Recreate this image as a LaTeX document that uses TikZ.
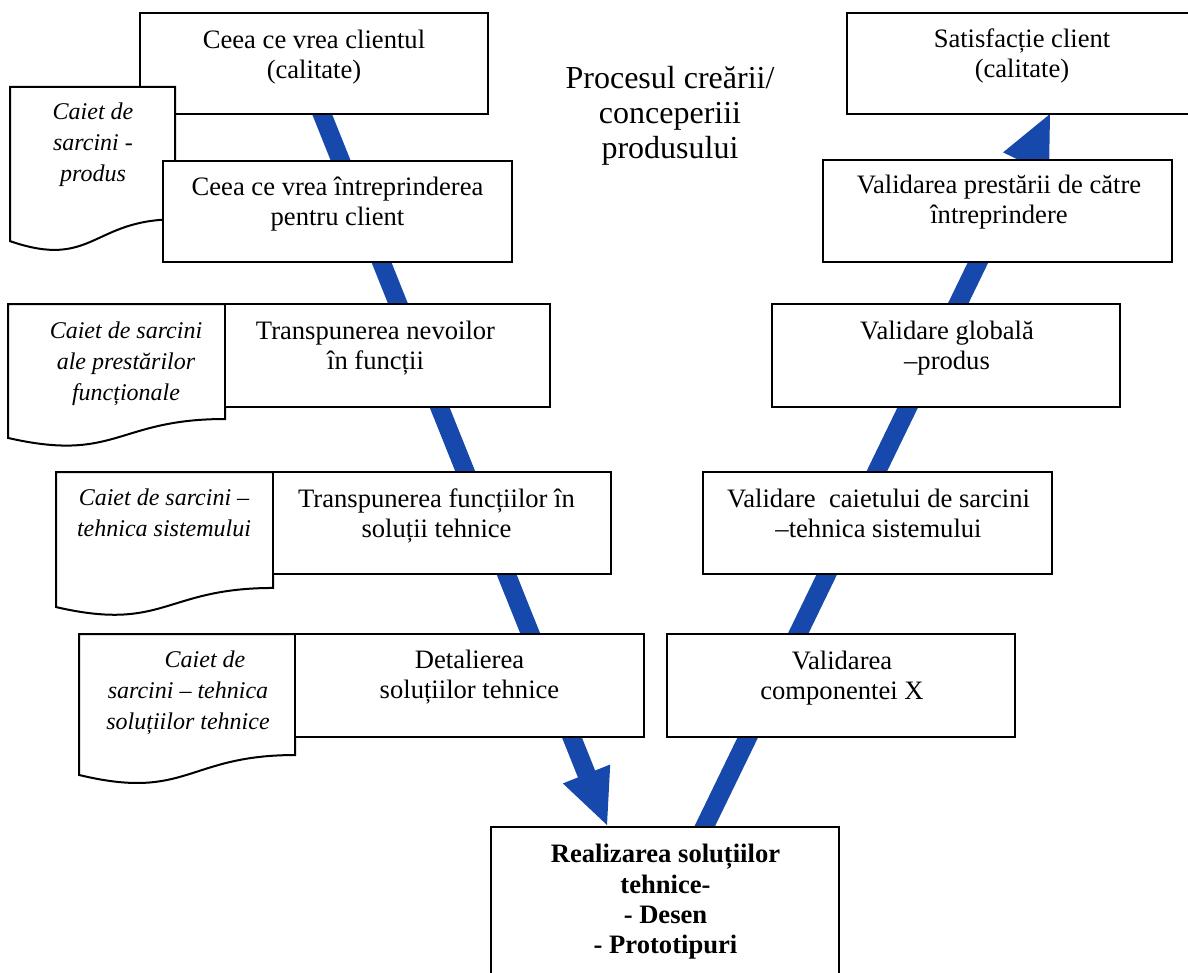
\documentclass[tikz,border=0pt]{standalone}
\usepackage{fontspec}
\setmainfont{Liberation Serif}
\usetikzlibrary{calc}
\definecolor{flowblue}{RGB}{23,72,171}
\tikzset{
  boxshape/.style={draw=black, line width=1pt, fill=white, rectangle, inner sep=0pt, outer sep=0pt},
  docline/.style={draw=black, line width=1pt, fill=white},
  boxtext/.style={anchor=north, align=center, inner sep=0pt, font=\fontsize{13.3}{15}\selectfont},
  boldtext/.style={anchor=north, align=center, inner sep=0pt, font=\fontsize{13.3}{15.2}\selectfont\bfseries},
  doctext/.style={anchor=north, align=center, inner sep=0pt, font=\fontsize{12}{15.5}\selectfont\itshape},
  titletext/.style={anchor=north, align=center, inner sep=0pt, font=\fontsize{16}{17.5}\selectfont},
  flowshaft/.style={draw=flowblue, line width=9.25pt, line cap=butt},
  flowhead/.style={fill=flowblue, draw=none},
}
% rectangle box given by its corners (x1,y1) and (x2,y2)
\newcommand\placebox[5]{%
  \pgfmathsetmacro\bw{(#4-#2)/2}%
  \pgfmathsetmacro\bh{(#5-#3)/2}%
  \node[boxshape, minimum width=\bw pt, minimum height=\bh pt] (#1) at ({(#2+#4)/2},{(#3+#5)/2}) {};%
}
% flowchart document shape: left x, right x, top y, full height
\newcommand\docshape[4]{%
  \pgfmathsetmacro\dmx{(#1+#2)/2}%
  \pgfmathsetmacro\drb{#3+0.802*#4}%
  \pgfmathsetmacro\dcp{#3+1.1075*#4}%
  \pgfmathsetmacro\dlb{#3+0.934*#4}%
  \path[docline] (#1,#3) -- (#2,#3) -- (#2,\drb)
    .. controls (\dmx,\drb) and (\dmx,\dcp) .. (#1,\dlb) -- cycle;%
}
% one thick arrow: start, tip, name prefix
\newcommand\flowarrow[2]{%
  \coordinate (#2-base) at ($(#2)!27.5pt!(#1)$);
  \coordinate (#2-join) at ($(#2)!26pt!(#1)$);
  \draw[flowshaft] (#1) -- (#2-join);
  \fill[flowhead] (#2) -- ($(#2-base)!12.75pt!90:(#2)$) -- ($(#2-base)!12.75pt!-90:(#2)$) -- cycle;%
}
\begin{document}
\begin{tikzpicture}[x=0.5pt, y=-0.5pt]
\useasboundingbox (0,0) rectangle (1188,973);
\clip (0,0) rectangle (1188,973);

% blue flow lines, behind the boxes
\coordinate (downstart) at (318,104);
\coordinate (downtip) at (607,825);
\coordinate (upstart) at (700,836);
\coordinate (uptip) at (1050,114);
\flowarrow{downstart}{downtip}
\flowarrow{upstart}{uptip}

% left branch: conception
\placebox{b1}{140}{13}{488}{114}
\node[boxtext] (b1t) at (314,27) {\strut Ceea ce vrea clientul\\(calitate)};

\docshape{10}{175}{87}{165}
\node[doctext] (d1t) at (93,97.3) {\strut Caiet de\\sarcini -\\produs};

\placebox{b2}{163}{161}{512}{262}
\node[boxtext] (b2t) at (337.5,174) {\strut Ceea ce vrea întreprinderea\\pentru client};

\docshape{8}{225}{304}{143.4}
\node[doctext] (d2t) at (126,316.3) {\strut Caiet de sarcini\\ale prestărilor\\funcționale};

\placebox{b3}{225}{304}{550}{407}
\node[boxtext] (b3t) at (375.5,318) {\strut Transpunerea nevoilor\\în funcții};

\docshape{56}{273}{472}{144.6}
\node[doctext] (d3t) at (164,483.3) {\strut Caiet de sarcini –\\tehnica sistemului};

\placebox{b4}{273}{472}{611}{574}
\node[boxtext] (b4t) at (436.5,486) {\strut Transpunerea funcțiilor în\\soluții tehnice};

\docshape{79}{295}{634}{150.9}
\node[doctext] (d4t) at (188,645.3) {\strut\hspace*{17pt}Caiet de\\sarcini – tehnica\\soluțiilor tehnice};

\placebox{b5}{295}{634}{644}{737}
\node[boxtext] (b5t) at (469.5,647) {\strut Detalierea\\soluțiilor tehnice};

% bottom: realisation
\placebox{real}{491}{827}{839}{1000}
\node[boldtext] (realt) at (665.5,841) {\strut Realizarea soluțiilor\\tehnice-\\- Desen\\- Prototipuri};

% right branch: validation
\placebox{vx}{667}{634}{1015}{737}
\node[boxtext] (vxt) at (842,648) {\strut Validarea\\componentei X};

\placebox{vc}{703}{472}{1052}{574}
\node[boxtext] (vct) at (878.5,486) {\strut Validare~ caietului de sarcini\\–tehnica sistemului};

\placebox{vg}{772}{304}{1120}{407}
\node[boxtext] (vgt) at (947,318) {\strut Validare globală\\–produs};

\placebox{vp}{823}{160}{1172}{262}
\node[boxtext] (vpt) at (999,172) {\strut Validarea prestării de către\\întreprindere};

\placebox{sat}{847}{13}{1198}{114}
\node[boxtext] (satt) at (1022,26) {\strut Satisfacție client\\(calitate)};

% title
\node[titletext] (title) at (670,63.5) {\strut Procesul creării/\\conceperiii\\produsului};
\end{tikzpicture}
\end{document}
